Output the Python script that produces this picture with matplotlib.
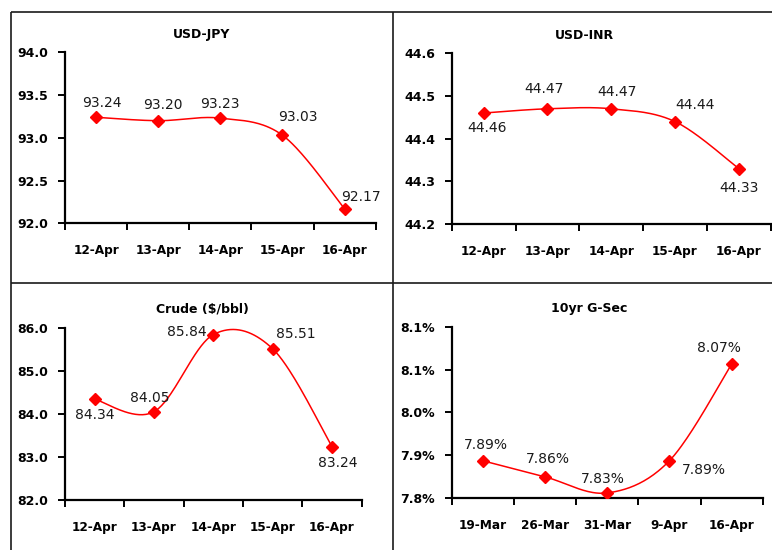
import numpy as np
import matplotlib
matplotlib.use("Agg")
import matplotlib.pyplot as plt
from matplotlib.lines import Line2D
from matplotlib.ticker import FixedLocator, FuncFormatter

plt.rcParams["font.family"] = ["DejaVu Sans"]

# ---- data -------------------------------------------------------------
apr_dates = ["12-Apr", "13-Apr", "14-Apr", "15-Apr", "16-Apr"]
gsec_dates = ["19-Mar", "26-Mar", "31-Mar", "9-Apr", "16-Apr"]

usd_jpy = [93.24, 93.20, 93.23, 93.03, 92.17]
usd_inr = [44.46, 44.47, 44.47, 44.44, 44.33]
crude = [84.34, 84.05, 85.84, 85.51, 83.24]
gsec_10yr = [7.89, 7.86, 7.83, 7.89, 8.07]

jpy_ticks = [92.0, 92.5, 93.0, 93.5, 94.0]
inr_ticks = [44.2, 44.3, 44.4, 44.5, 44.6]
crude_ticks = [82.0, 83.0, 84.0, 85.0, 86.0]
gsec_ticks = [7.82, 7.90, 7.98, 8.06, 8.14]

# ---- layout (pixels, origin at top-left of a 772x550 canvas) -----------
W, H = 772, 550
DPI = 100


def px_rect(x0, y0, x1, y1):
    return [x0 / W, 1 - y1 / H, (x1 - x0) / W, (y1 - y0) / H]


def smooth(xs, ys, n=40):
    """Catmull-Rom curve through the points, drawn as cubic Beziers."""
    x = np.asarray(xs, float)
    y = np.asarray(ys, float)
    px = np.concatenate([[x[0]], x, [x[-1]]])
    py = np.concatenate([[y[0]], y, [y[-1]]])
    out_x, out_y = [], []
    t = np.linspace(0, 1, n)
    for i in range(1, len(px) - 2):
        p0 = np.array([px[i], py[i]])
        p3 = np.array([px[i + 1], py[i + 1]])
        c1 = p0 + (np.array([px[i + 1], py[i + 1]]) - np.array([px[i - 1], py[i - 1]])) / 6
        c2 = p3 - (np.array([px[i + 2], py[i + 2]]) - np.array([px[i], py[i]])) / 6
        b = ((1 - t) ** 3)[:, None] * p0 + (3 * (1 - t) ** 2 * t)[:, None] * c1 \
            + (3 * (1 - t) * t ** 2)[:, None] * c2 + (t ** 3)[:, None] * p3
        out_x.extend(b[:, 0])
        out_y.extend(b[:, 1])
    return out_x, out_y


fig = plt.figure(figsize=(W / DPI, H / DPI), dpi=DPI)
fig.patch.set_facecolor("white")

PX = 72 / DPI  # points per pixel

panels = [
    dict(title="USD-JPY", cats=apr_dates, vals=usd_jpy, ticks=jpy_ticks,
         rect=(65, 52.3, 375.7, 223.3), title_xy=(202, 34.5),
         tick_fmt=lambda v: f"{v:.1f}", lab_fmt=lambda v: f"{v:.2f}",
         offsets=[(6, -14), (5, -16), (0, -14), (15, -18), (16, -12)]),
    dict(title="USD-INR", cats=apr_dates, vals=usd_inr, ticks=inr_ticks,
         rect=(451.7, 53.3, 770.7, 224), title_xy=(584, 35.5),
         tick_fmt=lambda v: f"{v:.1f}", lab_fmt=lambda v: f"{v:.2f}",
         offsets=[(3, 15), (-3, -20), (6, -17), (20, -17), (0, 19)]),
    dict(title="Crude ($/bbl)", cats=apr_dates, vals=crude, ticks=crude_ticks,
         rect=(65, 327.7, 361.7, 500), title_xy=(202, 308.5),
         tick_fmt=lambda v: f"{v:.1f}", lab_fmt=lambda v: f"{v:.2f}",
         offsets=[(0, 16), (-4, -14), (-27, -3), (23, -15), (6, 16)]),
    dict(title="10yr G-Sec", cats=gsec_dates, vals=gsec_10yr, ticks=gsec_ticks,
         rect=(451.7, 326.7, 762.7, 498.3), title_xy=(589, 308.5),
         tick_fmt=lambda v: f"{v:.1f}%", lab_fmt=lambda v: f"{v:.2f}%",
         offsets=[(3, -16), (3, -17.5), (-4, -14), (34, 9), (-13, -16)]),
]

for p in panels:
    ax = fig.add_axes(px_rect(*p["rect"]))
    n = len(p["cats"])
    xs = np.arange(n)
    sx, sy = smooth(xs, p["vals"])
    ax.plot(sx, sy, color="#ff0000", lw=1.1, solid_capstyle="round", zorder=2)
    ax.plot(xs, p["vals"], ls="none", marker="D", ms=6.3, color="#ff0000",
            mec="#ff0000", zorder=3)

    for xi, v, (dx, dy) in zip(xs, p["vals"], p["offsets"]):
        ax.annotate(p["lab_fmt"](v), (xi, v), xytext=(dx * PX, -dy * PX),
                    textcoords="offset points", ha="center", va="center",
                    fontsize=10, color="#1a1a1a", annotation_clip=False)

    ax.set_xlim(-0.5, n - 0.5)
    ax.set_ylim(p["ticks"][0], p["ticks"][-1])

    ax.xaxis.set_major_locator(FixedLocator(np.arange(n + 1) - 0.5))
    ax.xaxis.set_major_formatter(FuncFormatter(lambda v, pos: ""))
    ax.xaxis.set_minor_locator(FixedLocator(xs))
    ax.set_xticklabels(p["cats"], minor=True)
    ax.tick_params(axis="x", which="major", direction="out", length=5,
                   width=1.4, color="black")
    ax.tick_params(axis="x", which="minor", length=0, pad=15,
                   labelsize=8.7, labelcolor="black")
    for lab in ax.get_xticklabels(minor=True):
        lab.set_fontweight("bold")

    ax.yaxis.set_major_locator(FixedLocator(p["ticks"]))
    ax.yaxis.set_major_formatter(FuncFormatter(lambda v, pos, f=p["tick_fmt"]: f(v)))
    ax.tick_params(axis="y", direction="out", length=5, width=1.4,
                   pad=7, labelsize=9, color="black")
    for lab in ax.get_yticklabels():
        lab.set_fontweight("bold")

    for side in ("top", "right"):
        ax.spines[side].set_visible(False)
    for side in ("left", "bottom"):
        ax.spines[side].set_linewidth(1.6)
        ax.spines[side].set_color("black")
    ax.set_facecolor("none")

    tx, ty = p["title_xy"]
    fig.text(tx / W, 1 - ty / H, p["title"], ha="center", va="center",
             fontsize=9, fontweight="bold", color="black")

# panel frame
frame = dict(color="#1a1a1a", lw=1.2, solid_capstyle="butt")
fig.add_artist(Line2D([11 / W, 1], [1 - 11.5 / H] * 2, transform=fig.transFigure, **frame))
fig.add_artist(Line2D([11 / W, 1], [1 - 283.3 / H] * 2, transform=fig.transFigure, **frame))
fig.add_artist(Line2D([11 / W] * 2, [1 - 11.5 / H, 0], transform=fig.transFigure, **frame))
fig.add_artist(Line2D([393.3 / W] * 2, [1 - 11.5 / H, 0], transform=fig.transFigure, **frame))

fig.savefig("out.png", dpi=DPI, facecolor="white")
